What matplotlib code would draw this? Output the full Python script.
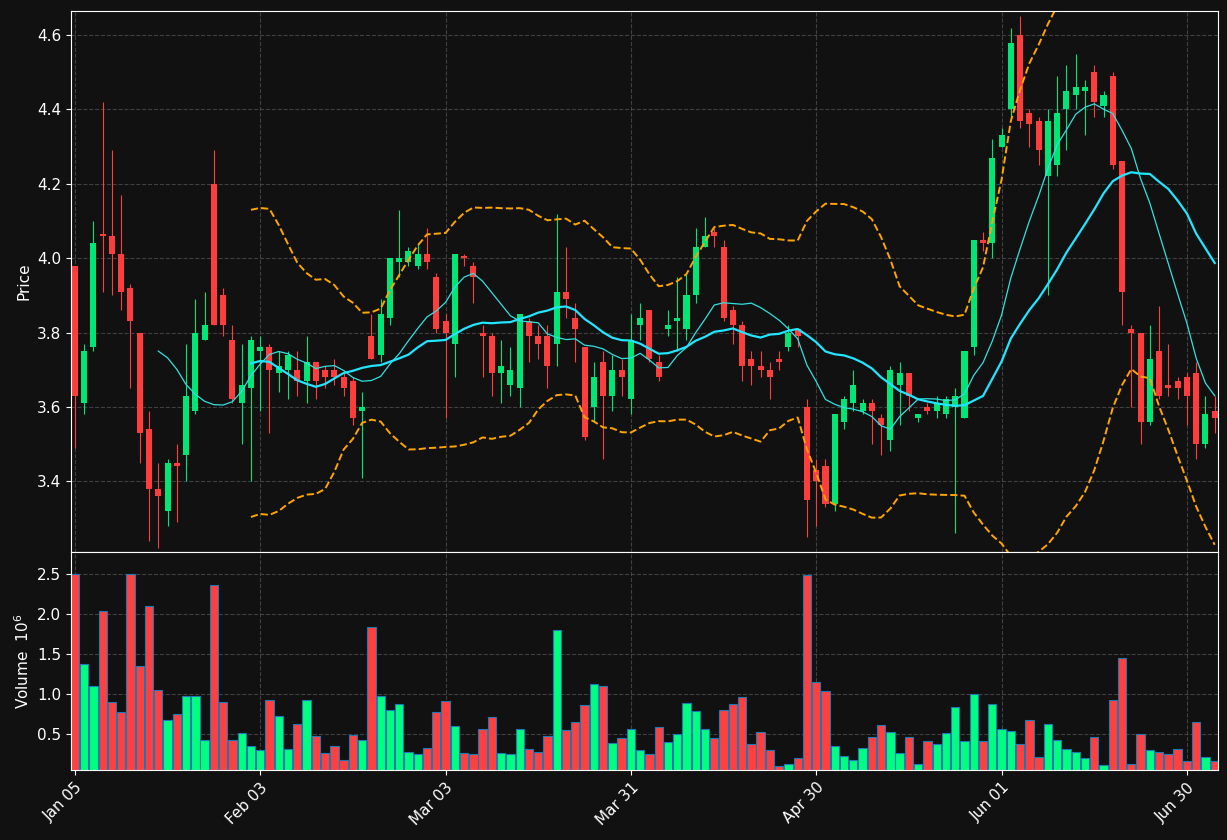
import numpy as np
import matplotlib
matplotlib.use("Agg")
import matplotlib.pyplot as plt

opens  = [3.98,3.61,3.76,4.065,4.06,4.01,3.92,3.80,3.54,3.38,3.32,3.45,3.47,3.59,3.78,4.20,3.90,3.78,3.61,3.65,
          3.75,3.76,3.69,3.70,3.70,3.67,3.72,3.70,3.70,3.68,3.67,3.59,3.79,3.74,3.84,3.99,3.99,3.98,4.01,3.95,
          3.83,3.77,4.005,3.98,3.80,3.79,3.69,3.66,3.65,3.83,3.79,3.79,3.77,3.91,3.84,3.76,3.60,3.72,3.63,3.70,
          3.62,3.82,3.86,3.72,3.81,3.83,3.81,3.90,4.03,4.07,4.03,3.86,3.82,3.73,3.71,3.70,3.73,3.76,3.81,3.60,
          3.43,3.44,3.34,3.56,3.61,3.59,3.61,3.57,3.51,3.66,3.69,3.57,3.60,3.59,3.58,3.60,3.57,3.76,4.05,4.04,
          4.30,4.40,4.60,4.39,4.37,4.22,4.25,4.40,4.44,4.45,4.50,4.41,4.49,4.26,3.81,3.80,3.56,3.75,3.66,3.67,
          3.68,3.69,3.50,3.59]
closes = [3.63,3.75,4.04,4.06,4.01,3.91,3.83,3.53,3.38,3.36,3.45,3.44,3.63,3.80,3.82,3.82,3.82,3.62,3.66,3.78,
          3.76,3.70,3.71,3.74,3.67,3.72,3.67,3.68,3.68,3.65,3.57,3.60,3.73,3.85,4.00,4.00,4.02,4.01,3.99,3.81,
          3.80,4.01,4.00,3.95,3.79,3.69,3.71,3.70,3.85,3.79,3.77,3.71,3.91,3.89,3.81,3.52,3.68,3.63,3.70,3.68,
          3.78,3.84,3.73,3.68,3.82,3.84,3.90,4.03,4.06,4.06,3.84,3.82,3.71,3.71,3.70,3.68,3.72,3.80,3.79,3.35,
          3.40,3.34,3.58,3.62,3.66,3.61,3.59,3.55,3.70,3.69,3.63,3.58,3.59,3.61,3.62,3.63,3.75,4.05,4.04,4.27,
          4.33,4.58,4.37,4.36,4.29,4.37,4.39,4.45,4.46,4.46,4.42,4.44,4.25,3.91,3.80,3.56,3.73,3.63,3.65,3.65,
          3.63,3.50,3.58,3.57]
highs  = [3.98,3.77,4.10,4.42,4.29,4.17,3.93,3.80,3.59,3.45,3.46,3.50,3.77,3.89,3.91,4.29,3.92,3.82,3.77,3.79,
          3.79,3.77,3.75,3.75,3.75,3.79,3.72,3.71,3.73,3.69,3.68,3.64,3.85,3.89,4.00,4.13,4.03,4.04,4.08,3.96,
          3.85,4.01,4.01,3.99,3.82,3.80,3.78,3.76,3.85,3.84,3.82,3.82,4.12,4.03,3.88,3.76,3.72,3.75,3.74,3.73,
          3.85,3.88,3.86,3.74,3.86,3.95,3.96,4.08,4.11,4.08,4.05,3.87,3.83,3.75,3.75,3.72,3.75,3.82,3.81,3.62,
          3.46,3.46,3.58,3.63,3.70,3.62,3.62,3.58,3.71,3.72,3.69,3.58,3.61,3.63,3.63,3.65,3.75,4.05,4.07,4.32,
          4.35,4.62,4.65,4.40,4.38,4.40,4.49,4.52,4.55,4.48,4.52,4.45,4.50,4.26,3.82,3.80,3.82,3.87,3.77,3.68,
          3.69,3.72,3.63,3.63]
lows   = [3.49,3.58,3.75,3.91,3.90,3.86,3.65,3.45,3.24,3.22,3.28,3.29,3.40,3.58,3.78,3.82,3.79,3.61,3.50,3.40,
          3.59,3.53,3.64,3.62,3.63,3.61,3.62,3.65,3.66,3.63,3.55,3.41,3.73,3.72,3.82,3.95,3.98,3.97,3.97,3.80,
          3.57,3.68,3.98,3.88,3.68,3.63,3.61,3.63,3.60,3.72,3.73,3.65,3.71,3.84,3.72,3.51,3.56,3.46,3.59,3.63,
          3.58,3.78,3.72,3.67,3.79,3.75,3.78,3.88,4.03,4.03,3.83,3.77,3.67,3.66,3.68,3.62,3.70,3.75,3.76,3.25,
          3.28,3.33,3.32,3.54,3.59,3.58,3.50,3.47,3.48,3.55,3.59,3.56,3.58,3.57,3.57,3.26,3.57,3.74,4.02,4.00,
          4.30,4.38,4.35,4.30,4.25,3.90,4.22,4.29,4.40,4.33,4.38,4.38,4.24,3.82,3.60,3.50,3.55,3.62,3.63,3.62,
          3.55,3.46,3.49,3.53]
volumes = [2.5,1.37,1.1,2.03,0.9,0.77,2.5,1.35,2.1,1.05,0.68,0.75,0.97,0.98,0.43,2.36,0.9,0.43,0.52,0.35,
           0.3,0.93,0.73,0.32,0.63,0.92,0.48,0.27,0.35,0.18,0.49,0.43,1.84,0.97,0.8,0.88,0.28,0.25,0.33,0.78,
           0.91,0.6,0.26,0.25,0.57,0.71,0.27,0.25,0.57,0.31,0.28,0.48,1.8,0.55,0.65,0.86,1.12,1.1,0.39,0.45,
           0.56,0.3,0.25,0.59,0.4,0.5,0.89,0.79,0.56,0.45,0.8,0.88,0.96,0.38,0.53,0.3,0.1,0.13,0.2,2.48,
           1.15,1.04,0.35,0.23,0.18,0.33,0.46,0.62,0.53,0.27,0.46,0.13,0.42,0.38,0.52,0.84,0.42,1.0,0.42,0.87,
           0.57,0.54,0.38,0.67,0.22,0.63,0.43,0.32,0.28,0.2,0.46,0.12,0.92,1.45,0.13,0.5,0.3,0.28,0.25,0.31,
           0.16,0.65,0.22,0.16]
tick_pos = [0, 20, 40, 60, 80, 100, 120]
tick_labels = ["Jan 05", "Feb 03", "Mar 03", "Mar 31", "Apr 30", "Jun 01", "Jun 30"]

o = np.array(opens); c = np.array(closes); h = np.array(highs); l = np.array(lows)
n = len(o); x = np.arange(n)
up_col, dn_col = "#00e676", "#ff3d3d"
cols = [up_col if cc >= oo else dn_col for oo, cc in zip(o, c)]
vcols = ["#00ff7f" if cc >= oo else "#ff4040" for oo, cc in zip(o, c)]

def sma(a, w):
    out = np.full(len(a), np.nan)
    for i in range(w - 1, len(a)):
        out[i] = a[i - w + 1:i + 1].mean()
    return out
def sstd(a, w):
    out = np.full(len(a), np.nan)
    for i in range(w - 1, len(a)):
        out[i] = a[i - w + 1:i + 1].std()
    return out

ma10 = sma(c, 10); ma20 = sma(c, 20); sd = sstd(c, 20)

bg = "#111111"
fig = plt.figure(figsize=(12.27, 8.4), dpi=100, facecolor=bg)
ax = fig.add_axes([0.058, 0.343, 0.935, 0.644])
axv = fig.add_axes([0.058, 0.083, 0.935, 0.26], sharex=ax)
for a in (ax, axv):
    a.set_facecolor(bg)
    for s in a.spines.values():
        s.set_color("white")
    a.tick_params(colors="white", labelsize=11)
    a.grid(True, color="#555555", linestyle="--", linewidth=0.8, alpha=0.7)
    a.set_axisbelow(True)

for i in range(n):
    ax.vlines(x[i], l[i], h[i], color=cols[i], linewidth=0.8)
    lo, hi = min(o[i], c[i]), max(o[i], c[i])
    ax.bar(x[i], max(hi - lo, 0.004), bottom=lo, width=0.65, color=cols[i], linewidth=0)

ax.plot(x, ma10, color="#33e0e0", linewidth=0.9)
ax.plot(x, ma20, color="#22e5ff", linewidth=1.6)
ax.plot(x, ma20 + 2 * sd, color="orange", linestyle="--", linewidth=1.4)
ax.plot(x, ma20 - 2 * sd, color="orange", linestyle="--", linewidth=1.4)
ax.set_ylim(3.21, 4.665)
ax.set_ylabel("Price", color="white", fontsize=11)
plt.setp(ax.get_xticklabels(), visible=False)

axv.bar(x, volumes, width=0.9, color=vcols, edgecolor="#1f77b4", linewidth=0.8)
axv.set_ylim(0.05, 2.77)
axv.set_yticks([0.5, 1.0, 1.5, 2.0, 2.5])
axv.set_ylabel("Volume  $10^6$", color="white", fontsize=11)
axv.set_xlim(-0.4, n - 0.6)
axv.set_xticks(tick_pos)
axv.set_xticklabels(tick_labels, rotation=45, ha="right", rotation_mode="anchor")

fig.savefig("out.png", facecolor=bg)
